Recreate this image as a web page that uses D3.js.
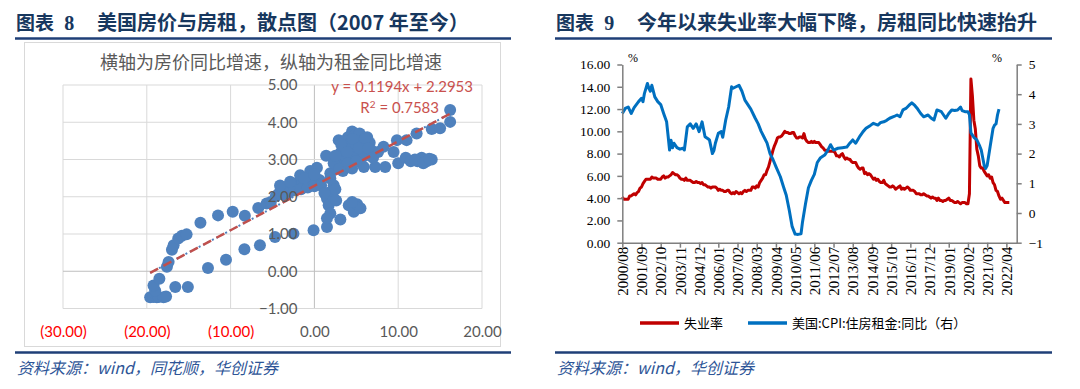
<!DOCTYPE html>
<html><head><meta charset="utf-8">
<script src="https://cdn.jsdelivr.net/npm/d3@7/dist/d3.min.js"></script>
<style>
body{margin:0;background:#fff}
svg{display:block}
</style></head><body>
<svg id="c" width="1080" height="389"></svg>
<script>
// ---- data: scatter (x = house price yoy, y = rent yoy) ----
var scatterPoints = [
  [-19.6,-0.70],[-19.2,-0.69],[-18.8,-0.70],[-18.6,-0.69],[-18.0,-0.70],[-17.7,-0.68],[-19.0,-0.52],[-19.2,-0.38],[-18.5,-0.20],[-16.6,-0.42],[-15.1,-0.42],
  [-17.6,0.12],[-17.4,0.25],[-17.0,0.58],[-16.8,0.70],[-16.25,0.88],[-15.8,0.95],[-15.25,0.99],[-13.6,1.30],[-11.5,1.50],[-9.75,1.60],[-8.3,1.49],[-6.7,1.70],[-5.7,1.82],[-5.2,1.86],
  [-12.7,0.09],[-10.55,0.31],[-8.35,0.59],[-6.5,0.70],[-4.7,0.92],[-2.5,1.01],[-0.1,1.10],[1.5,1.19],[3.1,1.39],
  [-4.6,2.02],[-4.2,2.10],[-3.8,2.20],[-3.4,2.25],[-3.0,2.30],[-2.6,2.28],[-2.2,2.35],[-1.8,2.32],[-1.4,2.38],[-1.0,2.40],[-0.6,2.35],[-0.2,2.42],[0.2,2.40],[0.6,2.45],
  [-3.6,2.05],[-3.0,2.12],[-2.4,2.18],[-1.6,2.20],[-0.8,2.25],[0.0,2.28],[0.8,2.30],[-4.1,2.30],[-2.9,2.40],[-1.7,2.58],[-0.5,2.69],[0.3,2.78],[-1.2,2.50],[0.0,2.60],
  [1.9,2.63],[3.4,2.69],[4.5,2.76],[5.9,2.80],[7.25,2.80],[8.45,2.80],
  [1.9,2.49],[2.3,2.31],[1.9,2.13],[1.5,1.95],[1.7,1.77],[1.9,1.55],[1.5,1.42],[2.2,2.00],[2.5,2.20],[1.2,2.10],[2.6,1.90],
  [4.1,1.77],[4.7,1.60],[5.1,1.80],[5.5,1.69],[4.5,1.86],
  [1.4,3.10],[2.9,3.52],[3.2,3.20],[2.8,2.95],[3.5,3.35],[4.0,3.60],[4.5,3.75],[4.8,3.65],[5.2,3.50],[5.6,3.40],[6.3,3.60],[6.6,3.45],[4.2,3.30],[3.8,3.05],[4.6,3.10],[5.0,3.20],
  [5.6,3.05],[6.0,3.10],[6.8,3.25],[7.6,3.20],[8.25,3.34],[2.3,2.90],[3.0,2.75],[4.0,2.90],[5.0,2.95],[3.6,3.50],[4.3,3.45],[5.4,3.70],[6.0,3.55],[4.6,3.55],[3.2,3.40],[2.5,3.10],
  [3.9,3.20],[5.3,3.30],[6.4,3.30],[7.0,3.05],
  [9.45,3.20],[9.85,3.52],[10.0,2.90],[11.0,3.52],[12.2,3.70],[14.0,3.82],[15.0,3.84],[16.2,4.01],[16.2,4.33],[10.9,3.05],[11.5,2.95],[12.3,2.95],[12.8,3.05],[13.4,2.95],[14.0,3.00],[12.0,3.00],[13.0,2.90],[13.7,3.02]
];
var trendSlope = 0.1194, trendIntercept = 2.2953;
var scatterXTicks = [-30,-20,-10,0,10,20];
var scatterYTicks = [-1,0,1,2,3,4,5];

// ---- data: unemployment (monthly from 2000/08) and rent CPI yoy ----
var unemploymentStart = "2000/08";
var unemployment = [
  4.1,3.9,3.9,3.9,3.9,
  4.2,4.2,4.3,4.4,4.3,4.5,4.6,4.9,5.0,5.3,5.5,5.7,
  5.7,5.7,5.7,5.9,5.8,5.8,5.8,5.7,5.7,5.7,5.9,6.0,
  5.8,5.9,5.9,6.0,6.1,6.3,6.2,6.1,6.1,6.0,5.8,5.7,
  5.7,5.6,5.8,5.6,5.6,5.6,5.5,5.4,5.4,5.5,5.4,5.4,
  5.3,5.4,5.2,5.2,5.1,5.0,5.0,4.9,5.0,5.0,5.0,4.9,
  4.7,4.8,4.7,4.7,4.6,4.6,4.7,4.7,4.5,4.4,4.5,4.4,
  4.6,4.5,4.4,4.5,4.4,4.6,4.7,4.6,4.7,4.7,4.7,5.0,
  5.0,4.9,5.1,5.0,5.4,5.6,5.8,6.1,6.1,6.5,6.8,7.3,
  7.8,8.3,8.7,9.0,9.4,9.5,9.5,9.6,9.8,10.0,9.9,9.9,
  9.8,9.8,9.9,9.9,9.6,9.4,9.4,9.5,9.5,9.4,9.8,9.3,
  9.1,9.0,9.0,9.1,9.0,9.1,9.0,9.0,9.0,8.8,8.6,8.5,
  8.3,8.3,8.2,8.2,8.2,8.2,8.2,8.1,7.8,7.8,7.7,7.9,
  8.0,7.7,7.5,7.6,7.5,7.5,7.3,7.2,7.2,7.2,6.9,6.7,
  6.6,6.7,6.7,6.2,6.3,6.1,6.2,6.1,5.9,5.7,5.8,5.6,
  5.7,5.5,5.4,5.4,5.6,5.3,5.2,5.1,5.0,5.0,5.1,5.0,
  4.8,4.9,5.0,5.1,4.8,4.9,4.8,4.9,5.0,4.9,4.7,4.7,
  4.7,4.6,4.4,4.4,4.4,4.3,4.3,4.4,4.3,4.2,4.2,4.1,
  4.0,4.1,4.0,4.0,3.8,4.0,3.8,3.8,3.7,3.8,3.8,3.9,
  4.0,3.8,3.8,3.7,3.6,3.6,3.7,3.6,3.5,3.6,3.6,3.6,
  3.5,3.5,4.4,14.7,13.2,11.0,10.2,8.4,7.8,6.9,6.7,6.7,
  6.4,6.2,6.0,6.1,5.8,5.9,5.4,5.2,4.7,4.6,4.2,3.9,
  4.0,3.8,3.6,3.6,3.6,3.6
];
var rentDates = ["2000/08","2000/10","2000/12","2001/02","2001/04","2001/07","2001/09","2001/10","2001/11","2002/01","2002/02","2002/03","2002/04","2002/06","2002/08","2002/10","2002/12",
  "2003/02","2003/03","2003/04","2003/05","2003/06","2003/07","2003/09","2003/11","2004/01","2004/02","2004/03","2004/04","2004/06","2004/08","2004/10","2004/12",
  "2005/02","2005/04","2005/06","2005/07","2005/09","2005/10","2005/11","2006/01","2006/03","2006/04","2006/06","2006/08","2006/10","2006/11","2007/01","2007/03","2007/05","2007/07","2007/09","2007/11",
  "2008/02","2008/04","2008/06","2008/08","2008/10","2008/12","2009/02","2009/04","2009/07","2009/09","2009/11","2010/01","2010/03","2010/05","2010/07","2010/09","2010/10","2010/12",
  "2011/02","2011/04","2011/06","2011/08","2011/10","2012/01","2012/03","2012/05","2012/07","2012/10","2013/01","2013/04","2013/06","2013/08","2013/10",
  "2014/01","2014/03","2014/05","2014/08","2014/10","2015/01","2015/03","2015/05","2015/07","2015/09","2015/12","2016/02","2016/04","2016/06","2016/08","2016/10","2016/12",
  "2017/02","2017/04","2017/06","2017/08","2017/11","2018/01","2018/03","2018/05","2018/08","2018/11","2019/01","2019/03","2019/05","2019/07","2019/09","2019/10","2019/12",
  "2020/02","2020/03","2020/04","2020/06","2020/08","2020/10","2020/11","2021/01","2021/02","2021/03","2021/05","2021/07","2021/08","2021/09","2021/10","2021/11"];
var rentValues = [3.35,3.52,3.57,3.35,3.55,3.75,3.86,3.75,4.03,4.36,4.2,4.1,4.3,3.91,3.75,3.65,3.35,
  3.07,2.6,2.12,2.45,2.2,2.35,2.2,2.15,2.18,2.12,2.5,2.9,3.0,2.85,3.0,2.74,
  3.07,2.57,2.5,2.46,2.0,2.1,2.35,2.68,2.74,2.55,3.13,3.57,4.25,4.2,4.25,4.3,4.1,3.8,3.65,3.5,
  3.19,3.0,2.75,2.55,2.35,2.0,1.8,1.56,1.22,0.9,0.6,0.1,-0.46,-0.71,-0.72,-0.7,-0.3,0.3,
  0.85,1.1,1.3,1.7,1.85,1.95,2.1,2.3,2.12,2.18,2.2,2.22,2.35,2.46,2.35,
  2.6,2.74,2.85,2.95,3.02,2.96,3.05,3.07,3.12,3.19,3.25,3.3,3.24,3.47,3.52,3.62,3.71,
  3.62,3.5,3.35,3.24,3.3,3.2,3.13,3.47,3.41,3.19,3.35,3.47,3.45,3.47,3.57,3.45,3.41,
  3.41,3.3,2.7,2.55,2.46,2.25,2.12,1.6,1.5,1.6,2.23,2.85,2.96,3.0,3.3,3.5];
var dateTicks = ["2000/08","2001/09","2002/10","2003/11","2004/12","2006/01","2007/02","2008/03","2009/04","2010/05","2011/06","2012/07","2013/08","2014/09","2015/10","2016/11","2017/12","2019/01","2020/02","2021/03","2022/04"];
var leftTicks = [0,2,4,6,8,10,12,14,16];
var rightTicks = [-1,0,1,2,3,4,5];

var svg = d3.select("#c");
var navy = "#17375E";
var cjk = "'Noto Sans CJK SC', sans-serif";
var serif = "'Liberation Serif', 'Times New Roman', serif";

// ---- page frame: headers, rules, sources ----
function header(x0, x1, num, title, source) {
  var t = svg.append("text").attr("x", x0 + 1).attr("y", 30).attr("fill", navy);
  t.append("tspan").style("font", "700 19px " + cjk).text("图表 ");
  t.append("tspan").attr("dx", 6).style("font", "700 20px " + serif).text(num);
  svg.append("text").attr("x", x0 + 82).attr("y", 30).attr("fill", navy)
    .style("font", "700 20px " + cjk).text(title);
  svg.append("line").attr("x1", x0).attr("x2", x1).attr("y1", 38.5).attr("y2", 38.5)
    .attr("stroke", "#1F3F77").attr("stroke-width", 2.5);
  svg.append("line").attr("x1", x0).attr("x2", x1).attr("y1", 352.5).attr("y2", 352.5)
    .attr("stroke", "#1F3F77").attr("stroke-width", 2.5);
  svg.append("text").attr("x", x0 + 2).attr("y", 374).attr("fill", "#2E5597")
    .style("font", "italic 16px " + cjk).text(source);
}
header(15, 511, "8", "美国房价与房租，散点图（2007 年至今）", "资料来源：wind，同花顺，华创证券");
header(555, 1052, "9", "今年以来失业率大幅下降，房租同比快速抬升", "资料来源：wind，华创证券");

// ---- left: scatter ----
var L = svg.append("g");
L.append("rect").attr("x", 24.5).attr("y", 42.5).attr("width", 476).attr("height", 304)
  .attr("fill", "#fff").attr("stroke", "#D9D9D9");
var sx = d3.scaleLinear().domain([-30, 20]).range([63, 482]);
var sy = d3.scaleLinear().domain([-1, 5]).range([308.5, 85]);

L.append("g").selectAll("line").data(scatterXTicks).enter().append("line")
  .attr("x1", d => sx(d)).attr("x2", d => sx(d)).attr("y1", sy(5)).attr("y2", sy(-1))
  .attr("stroke", d => d == 0 ? "#BFBFBF" : "#D9D9D9").attr("stroke-width", 1);
L.append("g").selectAll("line").data(scatterYTicks).enter().append("line")
  .attr("x1", sx(-30)).attr("x2", sx(20)).attr("y1", d => sy(d)).attr("y2", d => sy(d))
  .attr("stroke", d => d == 0 ? "#BFBFBF" : "#D9D9D9").attr("stroke-width", 1);

L.append("text").attr("x", 271).attr("y", 69).attr("text-anchor", "middle").attr("fill", "#595959")
  .style("font", "18px " + cjk).text("横轴为房价同比增速，纵轴为租金同比增速");

// trend line over the data range (blue dotted under red dashes)
var xExt = d3.extent(scatterPoints, d => d[0]);
var trend = [xExt[0], xExt[1]].map(x => [x, trendSlope * x + trendIntercept]);
L.append("line")
  .attr("x1", sx(trend[0][0])).attr("y1", sy(trend[0][1]))
  .attr("x2", sx(trend[1][0])).attr("y2", sy(trend[1][1]))
  .attr("stroke", "#4F81BD").attr("stroke-width", 2).attr("stroke-dasharray", "2,3");

L.append("g").selectAll("circle").data(scatterPoints).enter().append("circle")
  .attr("cx", d => sx(d[0])).attr("cy", d => sy(d[1])).attr("r", 6)
  .attr("fill", "#4F81BD");

L.append("line")
  .attr("x1", sx(trend[0][0])).attr("y1", sy(trend[0][1]))
  .attr("x2", sx(trend[1][0])).attr("y2", sy(trend[1][1]))
  .attr("stroke", "#C0504D").attr("stroke-width", 2.5).attr("stroke-dasharray", "9,6");

// axis labels
var f2 = d3.format(".2f");
var yAx = L.append("g").attr("transform", "translate(" + sx(0) + ",0)")
  .call(d3.axisLeft(sy).tickValues(scatterYTicks).tickFormat(f2).tickSize(0).tickPadding(17));
yAx.select(".domain").remove();
yAx.selectAll("text").attr("fill", "#595959").style("font", "15px Lato, sans-serif");

var xAx = L.append("g").attr("transform", "translate(0," + (sy(-1) + 18) + ")")
  .call(d3.axisBottom(sx).tickValues(scatterXTicks).tickSize(0).tickPadding(0)
    .tickFormat(d => d < 0 ? "(" + f2(-d) + ")" : f2(d)));
xAx.select(".domain").remove();
xAx.selectAll("text").attr("fill", d => d < 0 ? "#FF0000" : "#595959").style("font", "15px Lato, sans-serif");

L.append("text").attr("x", 473).attr("y", 92).attr("text-anchor", "end").attr("fill", "#C9514E")
  .style("font", "15px Lato, sans-serif").text("y = " + trendSlope + "x + " + trendIntercept);
L.append("text").attr("x", 439).attr("y", 113).attr("text-anchor", "end").attr("fill", "#C9514E")
  .style("font", "15px Lato, sans-serif").html("R<tspan dy='-5' font-size='10'>2</tspan><tspan dy='5'> = 0.7583</tspan>");

// ---- right: unemployment vs rent ----
var R = svg.append("g");
function monthIndex(s) {
  var p = s.split("/"), q = unemploymentStart.split("/");
  return (+p[0] - +q[0]) * 12 + (+p[1] - +q[1]);
}
var tx = d3.scaleLinear().domain([0, 267]).range([622.3, 1016.7]);
var yl = d3.scaleLinear().domain([0, 16]).range([242.7, 64.5]);
var yr = d3.scaleLinear().domain([-1, 5]).range([242.7, 64.5]);

var redLine = d3.line().x((d, i) => tx(i)).y(d => yl(d));
var blueLine = d3.line().x((d, i) => tx(monthIndex(rentDates[i]))).y(d => yr(d));

R.append("path").attr("d", redLine(unemployment)).attr("fill", "none")
  .attr("stroke", "#C00000").attr("stroke-width", 3).attr("stroke-linejoin", "round");
R.append("path").attr("d", blueLine(rentValues)).attr("fill", "none")
  .attr("stroke", "#0070C0").attr("stroke-width", 3).attr("stroke-linejoin", "round");

var axL = R.append("g").attr("transform", "translate(" + tx(0) + ",0)")
  .call(d3.axisLeft(yl).tickValues(leftTicks).tickFormat(f2).tickSize(5).tickSizeOuter(0).tickPadding(7));
var axR = R.append("g").attr("transform", "translate(" + tx(267) + ",0)")
  .call(d3.axisRight(yr).tickValues(rightTicks).tickFormat(d3.format("d")).tickSize(5).tickSizeOuter(0).tickPadding(7));
var axB = R.append("g").attr("transform", "translate(0," + yl(0) + ")")
  .call(d3.axisBottom(tx).tickValues(dateTicks.map(monthIndex)).tickSize(5).tickSizeOuter(0)
    .tickFormat((d, i) => dateTicks[i]));
[axL, axR, axB].forEach(function(a) {
  a.selectAll("path,line").attr("stroke", "#7F7F7F").attr("stroke-width", 1.5);
  a.selectAll("text").attr("fill", "#000").style("font", "13.5px " + serif);
});
axB.selectAll("text").attr("transform", "rotate(-90)").attr("text-anchor", "end")
  .attr("x", -4).attr("y", 0).attr("dy", "0.35em").style("font", "15px " + serif);

R.append("text").attr("x", 628).attr("y", 62).style("font", "12px " + serif).text("%");
R.append("text").attr("x", 992).attr("y", 62).style("font", "12px " + serif).text("%");

// legend
var legend = [
  {name: "失业率", color: "#C00000", x: 640},
  {name: "美国:CPI:住房租金:同比（右）", color: "#0070C0", x: 748}
];
var lg = R.append("g").selectAll("g").data(legend).enter().append("g");
lg.append("line").attr("x1", d => d.x).attr("x2", d => d.x + 39).attr("y1", 323).attr("y2", 323)
  .attr("stroke", d => d.color).attr("stroke-width", 3.5);
lg.append("text").attr("x", d => d.x + 44).attr("y", 327.5).attr("fill", "#000")
  .style("font", "13px " + cjk).text(d => d.name);
</script></body></html>
